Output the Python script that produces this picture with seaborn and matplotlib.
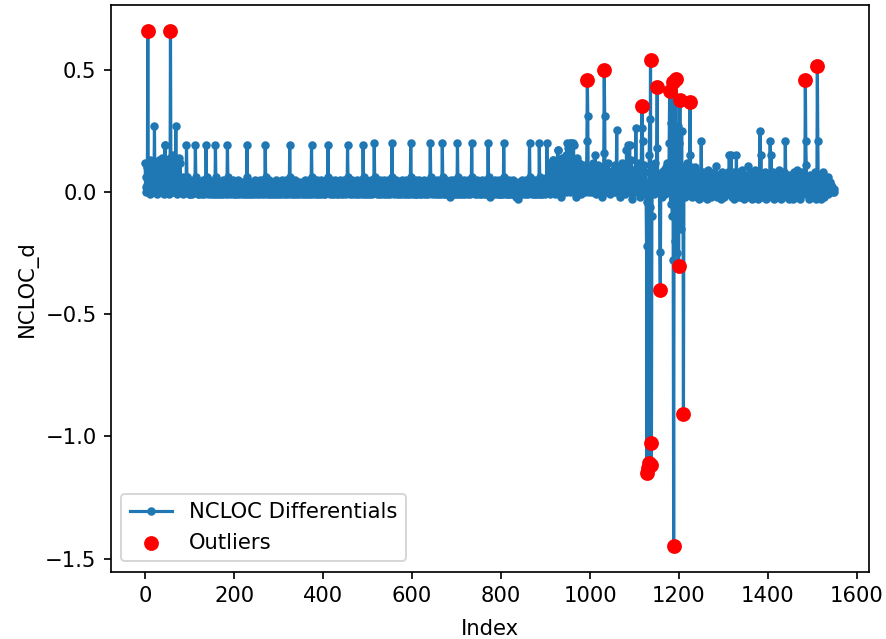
import numpy as np
import pandas as pd
import matplotlib
matplotlib.use("Agg")
import matplotlib.pyplot as plt
import seaborn as sns

# ---- data ----
# baseline NCLOC_d values in hundredths, rows of 50 points (groups of 10 split by "|")
baseline_rows = [
    "12 2 6 0 10 3 8 4 1 12 | -1 5 13 0 3 8 0 4 10 1 | 6 14 3 0 12 2 9 -1 11 4 | 0 13 2 6 0 10 1 14 3 0 | 8 2 12 -1 4 19 2 6 0 10",
    "1 13 3 -1 7 14 2 9 5 0 | 11 3 15 0 6 2 13 0 4 10 | 2 9 -1 12 3 0 14 1 5 12 | 0 2 4 0 1 6 -1 3 0 2 | 0 4 0 1 2 6 2 0 3 -1",
    "1 -1 3 0 4 1 -1 2 0 5 | 1 0 3 -1 2 4 0 2 -1 1 | -1 3 0 2 4 0 3 -1 1 2 | 5 0 2 -1 1 4 0 -1 3 0 | 2 4 -1 5 1 0 3 -1 4 0",
    "3 0 -1 4 1 0 3 -1 2 5 | 0 3 -1 2 4 0 3 -1 1 2 | 4 -1 0 3 1 -1 5 0 2 4 | 2 -1 1 0 4 1 3 -1 2 0 | 3 1 4 -1 0 2 3 5 0 -1",
    "1 4 -1 2 0 3 -1 2 5 0 | 2 4 -1 1 3 0 2 -1 4 2 | 0 3 -1 0 4 1 -1 2 5 0 | 4 1 -1 3 0 -1 2 4 0 3 | -1 1 4 2 0 -1 3 5 0 2",
    "0 3 -1 2 4 0 -1 3 1 5 | 4 0 -1 2 3 5 0 1 -1 2 | 4 0 2 -1 3 1 0 4 -1 5 | 0 2 4 -1 1 3 0 2 -1 4 | 1 0 -1 3 2 5 0 -1 2 4",
    "2 -1 3 0 4 1 -1 2 5 0 | 3 4 -1 2 0 3 -1 5 1 0 | 2 4 -1 1 3 0 5 -1 2 0 | 4 3 -1 1 0 2 5 -1 2 0 | 4 0 -1 3 1 -1 2 4 0 3",
    "0 3 -1 2 4 0 -1 3 1 5 | 0 2 -1 4 1 3 0 -1 5 2 | 1 -1 3 0 4 2 -1 0 3 5 | 2 -1 1 4 0 3 -1 5 0 2 | 4 -1 0 2 3 -1 5 1 0 3",
    "2 -1 4 3 0 -1 2 5 0 1 | 3 -1 0 4 2 -1 3 5 0 1 | 4 -1 2 0 3 -1 5 1 0 3 | 2 -1 4 0 -1 3 1 5 0 2 | -1 4 1 0 3 -1 2 5 0 1",
    "3 -1 2 4 0 -1 5 1 2 0 | 4 -1 3 0 2 5 -1 1 3 0 | 2 -1 4 0 3 1 -1 5 0 2 | 4 -1 1 3 0 2 5 -1 0 3 | 1 4 -1 0 2 3 -1 5 1 0",
    "2 -1 3 0 4 1 -1 2 5 0 | 3 -1 2 4 0 -1 3 1 5 0 | 2 4 -1 0 3 1 -1 5 2 0 | 3 -1 4 1 0 2 -1 5 3 0 | 1 4 -1 2 0 3 -1 5 1 0",
    "3 -1 2 4 0 -1 5 1 2 0 | -1 4 2 0 3 5 -1 1 3 0 | 2 -1 4 0 3 1 -1 5 0 2 | 4 -1 1 3 0 2 5 -1 0 3 | 1 4 -1 0 2 -1 3 5 1 0",
    "2 -1 4 1 3 0 -1 2 5 -1 | 3 0 -1 4 2 0 5 -1 1 3 | 0 -1 4 2 0 3 -1 5 1 2 | 0 4 -1 2 3 -1 0 5 1 0 | 3 -1 4 0 2 -1 5 1 0 3",
    "0 3 -1 4 2 0 -1 5 1 0 | 4 -1 2 0 3 -1 5 2 1 0 | 3 -1 4 2 0 -1 5 1 0 3 | 2 -1 4 0 3 -2 1 5 -1 2 | 4 0 -1 3 1 5 0 -1 2 0",
    "3 -1 4 1 2 0 -1 5 2 0 | -1 3 4 0 2 -1 5 1 3 0 | -1 4 2 0 3 -1 5 1 0 2 | -1 4 3 0 -1 2 5 1 0 3 | 4 -1 0 2 3 -1 5 1 0 2",
    "0 3 -1 4 2 0 -1 5 1 3 | 0 -1 4 2 0 3 -1 5 1 0 | 3 -1 4 0 2 -2 5 1 0 3 | -1 4 2 0 3 -1 5 0 1 3 | -1 4 0 2 3 -1 5 1 -1 0",
    "3 -1 4 2 0 -1 5 1 3 0 | 4 -1 2 0 3 -1 -1 5 2 3 | -1 4 1 0 3 -1 5 2 0 3 | -1 4 0 2 -2 0 3 -2 -3 1 | 4 -1 2 0 3 -1 5 1 0 2",
    "3 -1 4 2 0 -1 5 1 3 0 | 4 -1 2 0 3 -1 5 2 0 3 | -1 4 1 -1 3 0 5 -1 2 3 | -1 4 0 2 3 -1 5 0 1 3 | -1 4 0 -1 3 5 0 2 -1 2",
    "2 5 1 0 8 3 0 10 2 6 | -1 4 12 3 0 7 13 2 5 0 | 9 3 -1 11 4 0 6 17 2 8 | 0 12 3 5 -2 10 1 7 14 3 | 0 9 4 12 1 6 0 15 3 8",
    "2 18 4 10 0 6 13 3 20 5 | 1 12 2 19 7 0 11 4 -2 9 | 3 14 1 6 0 8 12 2 5 -1 | 10 3 0 7 4 11 2 6 0 9 | 1 5 3 -3 8 2 13 4 0 6",
    "3 10 1 5 0 8 2 12 4 0 | 7 1 15 3 -1 6 2 9 0 11 | 3 5 1 8 0 4 -2 7 2 10 | 1 16 50 31 0 9 2 4 1 7 | 0 12 3 5 -1 8 2 6 0 4",
    "1 9 3 0 7 2 11 4 0 6 | 26 3 8 1 5 0 10 2 -2 7 | 3 12 1 4 0 9 2 6 -1 8 | 3 5 17 2 11 4 0 7 1 19 | 3 6 0 13 2 -3 5 1 9 4",
    "0 8 2 6 1 10 3 0 7 4 | 4 12 -2 5 1 9 20 3 2 6 | 0 11 -1 4 8 2 0 2 3 1 | 2 0 1 3 2 5 1 2 0 4 | -2 10 1 6 -1 3 12 0 5 2",
    "2 5 1 7 0 3 1 4 2 1 | 5 -2 8 3 0 6 2 9 -1 4 | 10 2 6 0 12 3 7 1 5 2 | 3 0 4 1 2 0 3 1 5 2 | 4 0 2 1 3 1 2 0 6 1",
    "2 5 0 3 1 4 6 0 8 2 | 1 0 6 3 -2 9 1 5 0 12 | 3 7 -1 4 15 2 1 6 0 -2 | 8 3 1 5 -1 10 2 4 0 7 | -2 3 6 1 -3 5 2 8 0 4",
    "6 3 -1 5 0 8 2 -2 4 1 | 7 3 0 -3 6 2 9 1 -1 5 | 3 0 7 -2 4 1 6 3 -1 8 | 2 0 5 10 1 -2 4 6 0 3 | -1 7 2 5 -3 1 8 0 4 2",
    "0 5 -2 3 7 1 4 -1 6 2 | 0 8 3 15 2 -1 5 15 0 3 | -2 6 1 8 -3 4 2 7 0 15 | 3 -1 5 2 -2 8 1 4 0 6 | -2 3 9 1 5 -3 2 7 0 4",
    "3 -1 6 1 4 0 10 2 -2 5 | 3 8 0 -3 4 1 7 2 6 -1 | 3 9 0 5 -2 2 6 1 -3 4 | 8 2 25 5 15 1 -2 4 7 0 | 3 -1 6 2 8 -3 4 1 5 0",
    "2 7 -1 4 1 21 3 15 0 6 | -2 3 8 1 -3 5 2 7 0 4 | -1 6 3 -2 9 1 5 0 3 -3 | 7 2 4 -1 6 0 8 2 3 21 | 5 1 -2 4 7 0 3 -3 6 2",
    "4 -1 7 2 0 5 3 -3 8 1 | 4 0 6 -2 3 9 1 5 -1 2 | 7 0 4 -3 6 2 3 8 -1 5 | 1 4 0 7 46 21 11 4 -1 6 | 2 0 5 -3 3 7 1 4 0 3",
    "3 6 -2 4 1 8 0 5 -3 2 | 6 51 21 4 0 7 -1 5 2 3 | -3 6 0 4 8 1 -2 5 2 3 | 0 6 1 4 -1 2 5 3 0 4 | 1 2 3 1 2 1 0 1 1 0",
]

# individually read peaks / dips (index, value in thousandths)
spike_idx = [6, 21, 44, 57, 69,
             93, 94, 113, 114, 137, 138, 158, 159, 185, 186, 229, 230, 270, 271,
             325, 326, 374, 375, 411, 412, 455, 456, 490, 491, 515, 516,
             555, 556, 597, 598, 641, 642, 668, 669, 702, 703, 734, 735, 771, 772,
             806, 807, 838, 864, 865, 886, 887, 903, 904,
             917, 928, 948, 955, 962, 993, 994, 995, 996, 1031, 1032, 1033,
             1060, 1082, 1085, 1103,
             1116, 1117, 1118, 1119, 1127, 1128, 1129, 1130, 1131, 1132, 1133, 1134,
             1135, 1136, 1137, 1138, 1139, 1140, 1150, 1151, 1152, 1157, 1158, 1159,
             1178, 1179, 1180, 1181, 1182, 1183, 1184, 1185, 1186, 1187, 1188, 1189,
             1190, 1191, 1192, 1193, 1194, 1195, 1196, 1197, 1198, 1199, 1200, 1201,
             1202, 1203, 1204, 1205, 1206, 1207, 1208, 1209, 1210, 1211, 1224, 1225, 1226,
             1250, 1283, 1313, 1317, 1329, 1356, 1382, 1384, 1405, 1407, 1439,
             1484, 1485, 1486, 1511, 1512, 1535]
spike_val = [657, 270, 190, 657, 270,
             190, 60, 190, 60, 190, 60, 190, 60, 190, 60, 190, 60, 190, 60,
             190, 60, 190, 60, 190, 60, 190, 60, 190, 60, 200, 60,
             200, 60, 200, 60, 200, 60, 200, 60, 200, 60, 200, 60, 200, 60,
             200, 60, -30, 200, 60, 200, 60, 200, 60,
             130, 170, 200, 200, 200, 210, 456, 310, 40, 160, 500, 310,
             255, 170, 190, 260,
             260, 350, 210, 60, -220, -1149, -40, -1130, 30, -1110, 150, 300,
             -60, 540, -1028, -1116, -100, 40, 180, 430, 50, -245, -402, 10,
             200, 412, 100, -50, 280, 0, 200, -100, 450, -280, -1449, 20,
             250, -200, 100, 460, 50, -250, 150, 0, 270, -301, 50, 200,
             377, 100, -150, 50, 250, 0, 100, 20, -910, 0, 150, 368, 100,
             210, 105, 150, 150, 150, 105, 250, 150, 210, 150, 210,
             456, 210, 110, 514, 210, 60]

# indices flagged as outliers (red dots)
outlier_idx = [6, 57, 994, 1032, 1117, 1128, 1130, 1132, 1136, 1137, 1138,
               1151, 1158, 1179, 1186, 1188, 1193, 1199, 1202, 1210, 1225,
               1484, 1511]

# ---- build series ----
baseline = [int(t) / 100.0 for row in baseline_rows for t in row.split() if t != "|"]
ncloc_d = np.array(baseline, dtype=float)
for i, v in zip(spike_idx, spike_val):
    ncloc_d[i] = v / 1000.0
index = np.arange(len(ncloc_d))
df = pd.DataFrame({"Index": index, "NCLOC_d": ncloc_d})
out = df.iloc[outlier_idx]

# ---- plot ----
plt.rcParams["font.size"] = 11
dpi = 138.44
k = 1.1  # overall scale of marks relative to matplotlib defaults
fig = plt.figure(figsize=(886 / dpi, 639 / dpi), dpi=dpi)
ax = fig.add_axes([0.1249, 0.1049, 0.9805 - 0.1249, 0.9914 - 0.1049])

sns.lineplot(data=df, x="Index", y="NCLOC_d", ax=ax, color="#1f77b4",
             marker=".", markersize=6 * k, markeredgecolor="#1f77b4",
             markeredgewidth=1.0 * k, linewidth=1.5 * k, sort=False,
             label="NCLOC Differentials")
sns.scatterplot(data=out, x="Index", y="NCLOC_d", ax=ax, color="red",
                s=(6 * k) ** 2, edgecolor="red", linewidth=1.0 * k, zorder=3,
                label="Outliers")

for sp in ax.spines.values():
    sp.set_linewidth(0.8 * k)
ax.tick_params(width=0.8 * k, length=3.5 * k)
ax.set_xlabel("Index", labelpad=6.5)
ax.set_ylabel("NCLOC_d")
ax.legend(loc="lower left")
fig.savefig("out.png", dpi=dpi)
